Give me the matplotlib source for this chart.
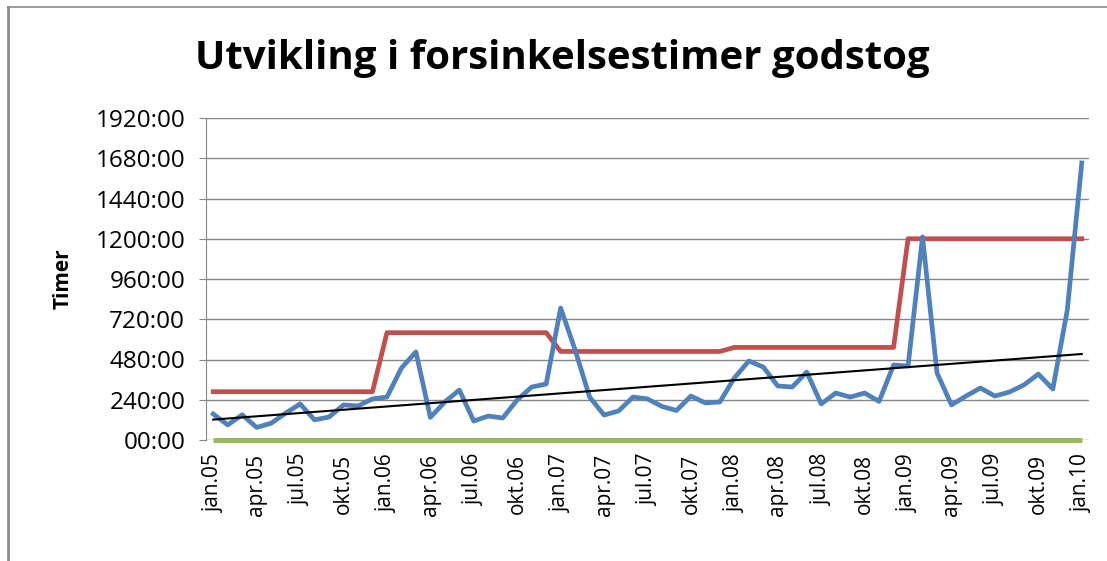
import matplotlib
matplotlib.use("Agg")
import matplotlib.pyplot as plt
import numpy as np
from matplotlib.lines import Line2D

months = ["jan", "feb", "mar", "apr", "mai", "jun", "jul", "aug", "sep", "okt", "nov", "des"]
years = ["05", "06", "07", "08", "09"]
categories = [f"{m}.{y}" for y in years for m in months] + ["jan.10"]

# Forsinkelsestimer (hours)
delay_hours = [
    155, 90, 150, 75, 100, 160, 215, 120, 137, 209, 203, 245,
    256, 429, 525, 135, 227, 298, 113, 143, 131, 239, 316, 334,
    787, 537, 256, 149, 173, 256, 245, 200, 176, 262, 221, 227,
    370, 471, 435, 322, 316, 405, 215, 280, 256, 280, 230, 447,
    441, 1211, 400, 209, 262, 310, 262, 286, 328, 393, 304, 775,
    1652,
]
# Target / limit (hours)
target_hours = [288] * 12 + [640] * 12 + [528] * 12 + [552] * 12 + [1200] * 12 + [1200]
zero_line = [0] * 61

yticks = list(range(0, 1921, 240))
ytick_labels = [f"{v:02d}:00" for v in yticks]

fig = plt.figure(figsize=(11.07, 5.61), dpi=100)
ax = fig.add_axes([206 / 1107, 1 - 440 / 561, (1089 - 206) / 1107, (440 - 118) / 561])

x = np.arange(len(categories))
ax.plot(x, zero_line, color="#9BBB59", lw=3.6, solid_capstyle="butt", zorder=3, clip_on=False)
ax.plot(x, target_hours, color="#C0504D", lw=3.4, zorder=4)
ax.plot(x, delay_hours, color="#4F81BD", lw=3.4, zorder=5)
coef = np.polyfit(x, delay_hours, 1)
ax.plot(x, np.polyval(coef, x), color="black", lw=1.5, zorder=6)

ax.set_xlim(-0.5, len(categories) - 0.5)
ax.set_ylim(0, 1920)
ax.set_yticks(yticks)
ax.set_yticklabels(ytick_labels, fontsize=17.5, fontfamily="Open Sans")
ax.set_xticks(x[::3])
ax.set_xticklabels(categories[::3], rotation=90, fontsize=15, fontfamily="Open Sans")
ax.tick_params(axis="y", length=5, color="#868686", pad=10)
ax.tick_params(axis="x", length=0, pad=10)
ax.grid(axis="y", color="#868686", lw=1.0)
ax.set_axisbelow(True)
for s in ["top", "right", "bottom"]:
    ax.spines[s].set_visible(False)
ax.spines["left"].set_color("#868686")
ax.set_ylabel("Timer", fontsize=15, fontweight="bold", fontfamily="Open Sans", labelpad=16)

fig.text(562 / 1107, 1 - 58 / 561, "Utvikling i forsinkelsestimer godstog",
         ha="center", va="center", fontsize=29, fontweight="bold", fontfamily="Open Sans")

# chart border (left and top)
fig.add_artist(Line2D([8 / 1107, 8 / 1107], [0, 1 - 7 / 561], transform=fig.transFigure, color="#8c8c8c", lw=2))
fig.add_artist(Line2D([8 / 1107, 1], [1 - 7 / 561, 1 - 7 / 561], transform=fig.transFigure, color="#8c8c8c", lw=1.2))

fig.savefig("out.png", dpi=100)
